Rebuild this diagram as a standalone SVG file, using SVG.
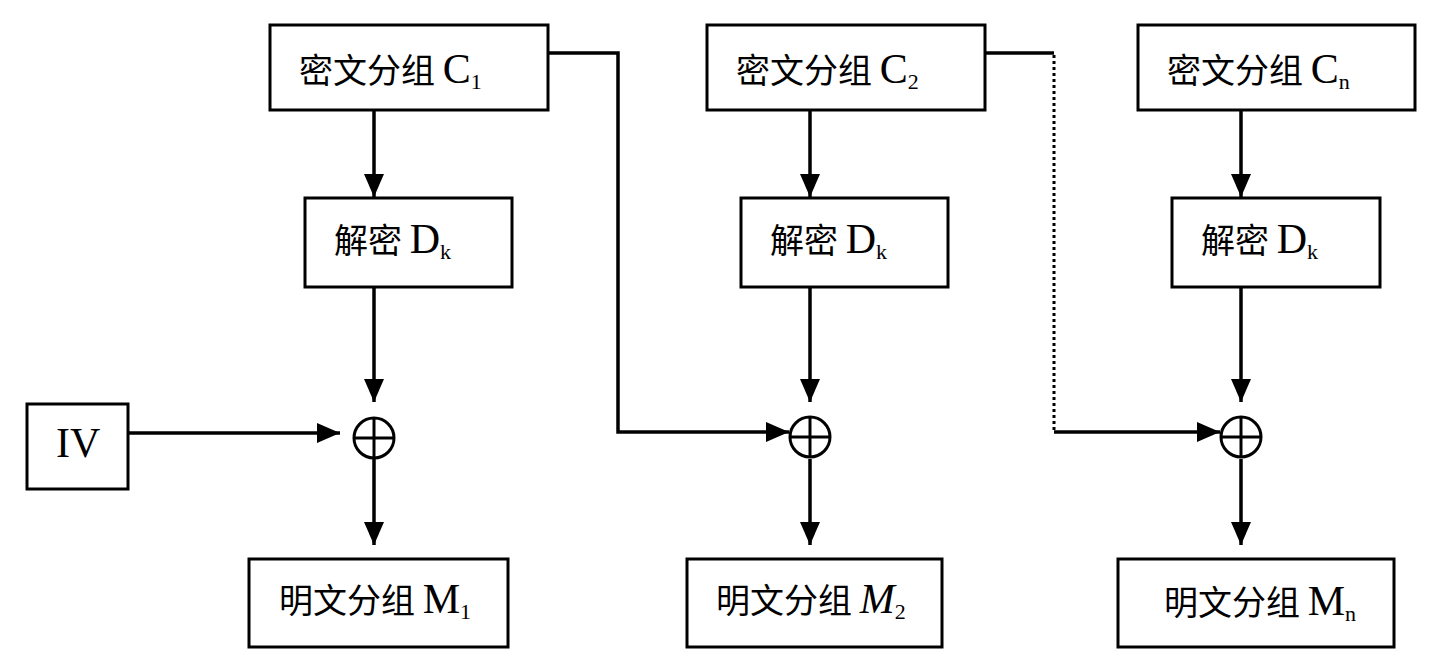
<svg xmlns="http://www.w3.org/2000/svg" width="1443" height="668" viewBox="0 0 1443 668">
<style>
.box{fill:#fff;stroke:#000;stroke-width:3}
.ln{fill:none;stroke:#000;stroke-width:3.5}
.dot{fill:none;stroke:#000;stroke-width:3;stroke-dasharray:3 3}
.zh{font-family:"Noto Sans CJK SC","Liberation Sans",sans-serif;font-size:34px;fill:#000}
.la{font-family:"Liberation Serif",serif;font-size:42px}
.sub{font-family:"Liberation Serif",serif;font-size:22px}
.xor{fill:#fff;stroke:#000;stroke-width:3}
.xp{stroke:#000;stroke-width:3}
</style>
<defs>
<marker id="ah" markerUnits="userSpaceOnUse" markerWidth="26" markerHeight="22" refX="23" refY="10" orient="auto">
<path d="M0,0 L23,10 L0,20 z" fill="#000"/>
</marker>
</defs>
<rect width="1443" height="668" fill="#fff"/>
<g id="connectors">
<line class="ln" x1="374" y1="110" x2="374" y2="197" marker-end="url(#ah)"/>
<line class="ln" x1="374" y1="287" x2="374" y2="402" marker-end="url(#ah)"/>
<line class="ln" x1="374" y1="459" x2="374" y2="545" marker-end="url(#ah)"/>
<line class="ln" x1="128" y1="433" x2="340" y2="433" marker-end="url(#ah)"/>
<line class="ln" x1="810" y1="110" x2="810" y2="197" marker-end="url(#ah)"/>
<line class="ln" x1="810" y1="287" x2="810" y2="402" marker-end="url(#ah)"/>
<line class="ln" x1="810" y1="459" x2="810" y2="545" marker-end="url(#ah)"/>
<polyline class="ln" points="548,53 618,53 618,432 789,432" marker-end="url(#ah)"/>
<line class="ln" x1="1241" y1="110" x2="1241" y2="197" marker-end="url(#ah)"/>
<line class="ln" x1="1241" y1="287" x2="1241" y2="402" marker-end="url(#ah)"/>
<line class="ln" x1="1241" y1="459" x2="1241" y2="545" marker-end="url(#ah)"/>
<polyline class="ln" points="985,53 1054,53"/>
<line class="dot" x1="1054" y1="55" x2="1054" y2="430"/>
<line class="ln" x1="1054" y1="432" x2="1220" y2="432" marker-end="url(#ah)"/>
</g>
<g id="c1"><rect class="box" x="270" y="25" width="278" height="85"/><text class="zh" x="299" y="83">密文分组 <tspan class="la">C</tspan><tspan class="sub" dy="6">1</tspan></text></g>
<g id="c2"><rect class="box" x="707" y="25" width="278" height="85"/><text class="zh" x="736" y="83">密文分组 <tspan class="la">C</tspan><tspan class="sub" dy="6">2</tspan></text></g>
<g id="cn"><rect class="box" x="1138" y="25" width="277" height="85"/><text class="zh" x="1167" y="83">密文分组 <tspan class="la">C</tspan><tspan class="sub" dy="6">n</tspan></text></g>
<g id="d1"><rect class="box" x="305" y="198" width="207" height="89"/><text class="zh" x="334" y="253">解密 <tspan class="la">D</tspan><tspan class="sub" dy="6">k</tspan></text></g>
<g id="d2"><rect class="box" x="741" y="198" width="207" height="89"/><text class="zh" x="770" y="253">解密 <tspan class="la">D</tspan><tspan class="sub" dy="6">k</tspan></text></g>
<g id="dn"><rect class="box" x="1172" y="198" width="208" height="89"/><text class="zh" x="1201" y="253">解密 <tspan class="la">D</tspan><tspan class="sub" dy="6">k</tspan></text></g>
<g id="iv"><rect class="box" x="27" y="404" width="101" height="85"/><text class="la" x="56" y="457">IV</text></g>
<g id="x1"><circle class="xor" cx="374" cy="438" r="20"/><line class="xp" x1="354" y1="438" x2="394" y2="438"/><line class="xp" x1="374" y1="418" x2="374" y2="458"/></g>
<g id="x2"><circle class="xor" cx="810" cy="437" r="20"/><line class="xp" x1="790" y1="437" x2="830" y2="437"/><line class="xp" x1="810" y1="417" x2="810" y2="457"/></g>
<g id="xn"><circle class="xor" cx="1241" cy="437" r="20"/><line class="xp" x1="1221" y1="437" x2="1261" y2="437"/><line class="xp" x1="1241" y1="417" x2="1241" y2="457"/></g>
<g id="m1"><rect class="box" x="249" y="559" width="259" height="88"/><text class="zh" x="279" y="613">明文分组 <tspan class="la">M</tspan><tspan class="sub" dy="6">1</tspan></text></g>
<g id="m2"><rect class="box" x="687" y="559" width="255" height="88"/><text class="zh" x="716" y="613">明文分组 <tspan class="la" font-style="italic">M</tspan><tspan class="sub" dy="6">2</tspan></text></g>
<g id="mn"><rect class="box" x="1118" y="559" width="276" height="88"/><text class="zh" x="1164" y="615">明文分组 <tspan class="la">M</tspan><tspan class="sub" dy="6">n</tspan></text></g>
</svg>
